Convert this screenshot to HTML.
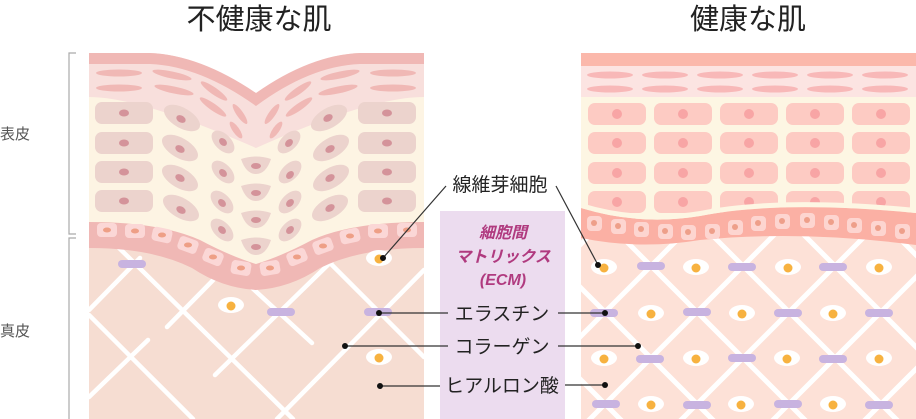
<!DOCTYPE html>
<html><head><meta charset="utf-8"><style>
html,body{margin:0;padding:0;background:#fff;}
svg{display:block;}
text{font-family:"Liberation Sans","Noto Sans CJK JP",sans-serif;}
</style></head><body>
<svg width="916" height="419" viewBox="0 0 916 419" xmlns="http://www.w3.org/2000/svg">
<defs>
<clipPath id="cl"><rect x="89" y="40" width="335" height="379"/></clipPath>
<clipPath id="cr"><rect x="581" y="40" width="335" height="379"/></clipPath>
<g id="eye"><ellipse cx="0" cy="0" rx="13" ry="8" fill="#fff"/><circle cx="0" cy="1" r="4.5" fill="#f7b240"/></g>
</defs>

<text x="259" y="29" font-size="29" text-anchor="middle" fill="#222">不健康な肌</text>
<text x="748" y="29" font-size="29" text-anchor="middle" fill="#222">健康な肌</text>

<path d="M76,53 H69 V234 H76 M76,238 H69 V419" fill="none" stroke="#aaa" stroke-width="1.2"/>
<text x="0" y="139" font-size="15" fill="#555">表皮</text>
<text x="0" y="336" font-size="15" fill="#555">真皮</text>

<!-- ===== LEFT PANEL ===== -->
<g clip-path="url(#cl)">
<rect x="89" y="200" width="335" height="219" fill="#f6ddd2"/>
<g stroke="#fff" stroke-width="4.5" stroke-linecap="round">
<line x1="89" y1="310" x2="140" y2="258"/>
<line x1="113" y1="242" x2="293" y2="419"/>
<line x1="167" y1="327" x2="225" y2="268"/>
<line x1="89" y1="315" x2="193" y2="419"/>
<line x1="89" y1="397" x2="148" y2="340"/>
<line x1="215" y1="375" x2="335" y2="258"/>
<line x1="250" y1="286" x2="312" y2="343"/>
<line x1="277" y1="419" x2="424" y2="270"/>
<line x1="330" y1="263" x2="424" y2="357"/>
</g>
<path d="M89,53 H150 Q200,55 256,95 Q310,55 360,53 H424 V222 Q360,222 256,268 Q150,222 89,222 Z" fill="#fdf4e3"/>
<path d="M89,53 H150 Q200,55 256,95 Q310,55 360,53 H424 V97 Q370,97 256,148 Q140,97 89,97 Z" fill="#f8dfdc"/>
<path d="M89,53 H150 Q200,55 256,93 Q310,55 360,53 H424 V64 H360 Q310,66 256,106 Q200,66 150,64 H89 Z" fill="#f0b8b5"/>
<g fill="#f0b8b5">
<ellipse cx="119" cy="73" rx="23" ry="3.5"/><ellipse cx="119" cy="88" rx="23" ry="3.5"/>
<ellipse cx="172" cy="75" rx="20" ry="3.5" transform="rotate(12 172 75)"/><ellipse cx="174" cy="90" rx="20" ry="3.5" transform="rotate(12 174 90)"/>
<ellipse cx="214" cy="91" rx="16" ry="3.5" transform="rotate(35 214 91)"/><ellipse cx="213" cy="107" rx="16" ry="3.5" transform="rotate(35 213 107)"/>
<ellipse cx="240" cy="114" rx="12" ry="3.3" transform="rotate(55 240 114)"/><ellipse cx="236" cy="130" rx="10" ry="3.3" transform="rotate(55 236 130)"/>
<ellipse cx="272" cy="114" rx="12" ry="3.3" transform="rotate(-55 272 114)"/><ellipse cx="276" cy="130" rx="10" ry="3.3" transform="rotate(-55 276 130)"/>
<ellipse cx="298" cy="91" rx="16" ry="3.5" transform="rotate(-35 298 91)"/><ellipse cx="299" cy="107" rx="16" ry="3.5" transform="rotate(-35 299 107)"/>
<ellipse cx="340" cy="75" rx="20" ry="3.5" transform="rotate(-12 340 75)"/><ellipse cx="338" cy="90" rx="20" ry="3.5" transform="rotate(-12 338 90)"/>
<ellipse cx="393" cy="73" rx="23" ry="3.5"/><ellipse cx="393" cy="88" rx="23" ry="3.5"/>
</g>
<g fill="#ecd3cd">
<rect x="95" y="102" width="58" height="22" rx="7"/><rect x="95" y="132" width="58" height="22" rx="7"/><rect x="95" y="161" width="58" height="22" rx="7"/><rect x="95" y="190" width="58" height="22" rx="7"/>
<rect x="358" y="102" width="58" height="22" rx="7"/><rect x="358" y="132" width="58" height="22" rx="7"/><rect x="358" y="161" width="58" height="22" rx="7"/><rect x="358" y="190" width="58" height="22" rx="7"/>
<ellipse cx="182" cy="118" rx="20" ry="10" transform="rotate(30 182 118)"/><ellipse cx="180" cy="148" rx="20" ry="10" transform="rotate(30 180 148)"/><ellipse cx="180" cy="178" rx="20" ry="10" transform="rotate(30 180 178)"/><ellipse cx="181" cy="208" rx="20" ry="10" transform="rotate(30 181 208)"/>
<ellipse cx="223" cy="142" rx="14" ry="8" transform="rotate(45 223 142)"/><ellipse cx="223" cy="172" rx="14" ry="8" transform="rotate(45 223 172)"/><ellipse cx="222" cy="202" rx="14" ry="8" transform="rotate(45 222 202)"/><ellipse cx="222" cy="230" rx="14" ry="8" transform="rotate(45 222 230)"/>
<ellipse cx="329" cy="118" rx="20" ry="10" transform="rotate(-30 329 118)"/><ellipse cx="331" cy="148" rx="20" ry="10" transform="rotate(-30 331 148)"/><ellipse cx="331" cy="178" rx="20" ry="10" transform="rotate(-30 331 178)"/><ellipse cx="330" cy="208" rx="20" ry="10" transform="rotate(-30 330 208)"/>
<ellipse cx="289" cy="142" rx="14" ry="8" transform="rotate(-45 289 142)"/><ellipse cx="290" cy="172" rx="14" ry="8" transform="rotate(-45 290 172)"/><ellipse cx="290" cy="202" rx="14" ry="8" transform="rotate(-45 290 202)"/><ellipse cx="290" cy="230" rx="14" ry="8" transform="rotate(-45 290 230)"/>
<path d="M241,159 Q256,154 271,159 Q266,174 256,174 Q246,174 241,159Z"/>
<path d="M241,186 Q256,181 271,186 Q266,201 256,201 Q246,201 241,186Z"/>
<path d="M241,213 Q256,208 271,213 Q266,228 256,228 Q246,228 241,213Z"/>
<path d="M241,240 Q256,235 271,240 Q266,255 256,255 Q246,255 241,240Z"/>
</g>
<g fill="#d4939a">
<ellipse cx="124" cy="113" rx="5" ry="3.5"/><ellipse cx="124" cy="143" rx="5" ry="3.5"/><ellipse cx="124" cy="172" rx="5" ry="3.5"/><ellipse cx="124" cy="201" rx="5" ry="3.5"/>
<ellipse cx="387" cy="113" rx="5" ry="3.5"/><ellipse cx="387" cy="143" rx="5" ry="3.5"/><ellipse cx="387" cy="172" rx="5" ry="3.5"/><ellipse cx="387" cy="201" rx="5" ry="3.5"/>
<ellipse cx="181" cy="119" rx="5" ry="3.5" transform="rotate(30 181 119)"/><ellipse cx="180" cy="149" rx="5" ry="3.5" transform="rotate(30 180 149)"/><ellipse cx="180" cy="178" rx="5" ry="3.5" transform="rotate(30 180 178)"/><ellipse cx="181" cy="210" rx="5" ry="3.5" transform="rotate(30 181 210)"/>
<ellipse cx="223" cy="142" rx="4.5" ry="3.3" transform="rotate(45 223 142)"/><ellipse cx="223" cy="173" rx="4.5" ry="3.3" transform="rotate(45 223 173)"/><ellipse cx="222" cy="203" rx="4.5" ry="3.3" transform="rotate(45 222 203)"/><ellipse cx="222" cy="230" rx="4.5" ry="3.3" transform="rotate(45 222 230)"/>
<ellipse cx="328" cy="118" rx="5" ry="3.5" transform="rotate(-30 328 118)"/><ellipse cx="330" cy="149" rx="5" ry="3.5" transform="rotate(-30 330 149)"/><ellipse cx="330" cy="178" rx="5" ry="3.5" transform="rotate(-30 330 178)"/><ellipse cx="330" cy="208" rx="5" ry="3.5" transform="rotate(-30 330 208)"/>
<ellipse cx="289" cy="143" rx="4.5" ry="3.3" transform="rotate(-45 289 143)"/><ellipse cx="290" cy="175" rx="4.5" ry="3.3" transform="rotate(-45 290 175)"/><ellipse cx="290" cy="203" rx="4.5" ry="3.3" transform="rotate(-45 290 203)"/><ellipse cx="290" cy="230" rx="4.5" ry="3.3" transform="rotate(-45 290 230)"/>
<ellipse cx="256" cy="166" rx="5" ry="3"/><ellipse cx="256" cy="193" rx="5" ry="3"/><ellipse cx="256" cy="220" rx="5" ry="3"/><ellipse cx="256" cy="247" rx="5" ry="3"/>
</g>
<path d="M89,222 Q160,222 200,240 Q230,256 256,264 Q282,256 312,240 Q352,222 424,222 V248 Q360,248 320,268 Q290,288 256,290 Q222,288 192,268 Q152,248 89,248 Z" fill="#f0b8b5"/>
<g fill="#fbd7d6">
<rect x="97" y="223" width="20" height="14" rx="4"/>
<rect x="125" y="224" width="20" height="14" rx="4"/>
<rect x="152" y="228" width="20" height="14" rx="4" transform="rotate(12 162 235)"/>
<rect x="178" y="238" width="20" height="14" rx="4" transform="rotate(20 188 245)"/>
<rect x="203" y="250" width="20" height="14" rx="4" transform="rotate(22 213 257)"/>
<rect x="231" y="261" width="20" height="14" rx="4" transform="rotate(10 241 268)"/>
<rect x="260" y="261" width="20" height="14" rx="4" transform="rotate(-10 270 268)"/>
<rect x="287" y="250" width="20" height="14" rx="4" transform="rotate(-22 297 257)"/>
<rect x="313" y="239" width="20" height="14" rx="4" transform="rotate(-20 323 246)"/>
<rect x="340" y="229" width="20" height="14" rx="4" transform="rotate(-12 350 236)"/>
<rect x="368" y="224" width="20" height="14" rx="4"/>
<rect x="397" y="223" width="20" height="14" rx="4"/>
</g>
<g fill="#ee9f86">
<ellipse cx="107" cy="230" rx="4" ry="2.5"/><ellipse cx="135" cy="231" rx="4" ry="2.5"/><ellipse cx="162" cy="235" rx="4" ry="2.5"/><ellipse cx="188" cy="245" rx="4" ry="2.5"/><ellipse cx="213" cy="257" rx="4" ry="2.5"/><ellipse cx="241" cy="268" rx="4" ry="2.5"/><ellipse cx="270" cy="268" rx="4" ry="2.5"/><ellipse cx="297" cy="257" rx="4" ry="2.5"/><ellipse cx="323" cy="246" rx="4" ry="2.5"/><ellipse cx="350" cy="236" rx="4" ry="2.5"/><ellipse cx="378" cy="231" rx="4" ry="2.5"/><ellipse cx="407" cy="230" rx="4" ry="2.5"/>
</g>
<use href="#eye" x="379" y="258"/>
<use href="#eye" x="231" y="305"/>
<use href="#eye" x="379" y="357"/>
<g fill="#c8b3e0">
<rect x="118" y="260" width="28" height="8" rx="4"/>
<rect x="267" y="308" width="28" height="8" rx="4"/>
<rect x="364" y="308" width="28" height="8" rx="4"/>
</g>
</g>

<!-- ===== RIGHT PANEL ===== -->
<g clip-path="url(#cr)">
<rect x="581" y="53" width="335" height="366" fill="#fde1d7"/>
<g stroke="#fff" stroke-width="5">
<line x1="471" y1="86" x2="806" y2="421"/>
<line x1="563" y1="86" x2="898" y2="421"/>
<line x1="655" y1="86" x2="990" y2="421"/>
<line x1="747" y1="86" x2="1082" y2="421"/>
<line x1="839" y1="86" x2="1174" y2="421"/>
<line x1="379" y1="86" x2="714" y2="421"/>
<line x1="287" y1="86" x2="622" y2="421"/>
<line x1="195" y1="86" x2="530" y2="421"/>
<line x1="1009" y1="0" x2="580" y2="429"/>
<line x1="1101" y1="0" x2="672" y2="429"/>
<line x1="1193" y1="0" x2="764" y2="429"/>
<line x1="1285" y1="0" x2="856" y2="429"/>
<line x1="917" y1="0" x2="488" y2="429"/>
<line x1="825" y1="0" x2="396" y2="429"/>
</g>
<rect x="581" y="53" width="335" height="170" fill="#fdf6e3"/>
<rect x="581" y="66" width="335" height="31" fill="#fce4e2"/>
<rect x="581" y="53" width="335" height="13" fill="#fbb8ab"/>
<g fill="#f8b8b8">
<ellipse cx="610" cy="75" rx="23" ry="3.5"/><ellipse cx="665" cy="75" rx="23" ry="3.5"/><ellipse cx="720" cy="75" rx="23" ry="3.5"/><ellipse cx="775" cy="75" rx="23" ry="3.5"/><ellipse cx="830" cy="75" rx="23" ry="3.5"/><ellipse cx="885" cy="75" rx="23" ry="3.5"/>
<ellipse cx="610" cy="89" rx="23" ry="3.5"/><ellipse cx="665" cy="89" rx="23" ry="3.5"/><ellipse cx="720" cy="89" rx="23" ry="3.5"/><ellipse cx="775" cy="89" rx="23" ry="3.5"/><ellipse cx="830" cy="89" rx="23" ry="3.5"/><ellipse cx="885" cy="89" rx="23" ry="3.5"/>
</g>
<g fill="#fdcbc3">
<rect x="588" y="103" width="58" height="22" rx="7"/><rect x="654" y="103" width="58" height="22" rx="7"/><rect x="720" y="103" width="58" height="22" rx="7"/><rect x="786" y="103" width="58" height="22" rx="7"/><rect x="852" y="103" width="58" height="22" rx="7"/>
<rect x="588" y="132" width="58" height="22" rx="7"/><rect x="654" y="132" width="58" height="22" rx="7"/><rect x="720" y="132" width="58" height="22" rx="7"/><rect x="786" y="132" width="58" height="22" rx="7"/><rect x="852" y="132" width="58" height="22" rx="7"/>
<rect x="588" y="162" width="58" height="22" rx="7"/><rect x="654" y="162" width="58" height="22" rx="7"/><rect x="720" y="162" width="58" height="22" rx="7"/><rect x="786" y="162" width="58" height="22" rx="7"/><rect x="852" y="162" width="58" height="22" rx="7"/>
<rect x="588" y="191" width="58" height="22" rx="7"/><rect x="654" y="191" width="58" height="22" rx="7"/><rect x="720" y="191" width="58" height="22" rx="7"/><rect x="786" y="191" width="58" height="22" rx="7"/><rect x="852" y="191" width="58" height="22" rx="7"/>
</g>
<g fill="#f8a5a5">
<circle cx="617" cy="114" r="5"/><circle cx="683" cy="114" r="5"/><circle cx="749" cy="114" r="5"/><circle cx="815" cy="114" r="5"/><circle cx="881" cy="114" r="5"/>
<circle cx="617" cy="143" r="5"/><circle cx="683" cy="143" r="5"/><circle cx="749" cy="143" r="5"/><circle cx="815" cy="143" r="5"/><circle cx="881" cy="143" r="5"/>
<circle cx="617" cy="173" r="5"/><circle cx="683" cy="173" r="5"/><circle cx="749" cy="173" r="5"/><circle cx="815" cy="173" r="5"/><circle cx="881" cy="173" r="5"/>
<circle cx="617" cy="202" r="5"/><circle cx="683" cy="202" r="5"/><circle cx="749" cy="202" r="5"/><circle cx="815" cy="202" r="5"/><circle cx="881" cy="202" r="5"/>
</g>
<path d="M581,208 Q640,226 700,216 Q780,200 916,213 V245 Q800,230 700,240 Q640,250 581,238 Z" fill="#fbb0a4"/>
<path d="M581,203 Q640,221 700,211 Q780,195 916,208 V213 Q780,200 700,216 Q640,226 581,208 Z" fill="#fdf6e3"/>
<g fill="#fdd5d0">
<rect x="587" y="216" width="15" height="15" rx="4"/><rect x="611" y="219" width="15" height="15" rx="4"/><rect x="634" y="222" width="15" height="15" rx="4"/><rect x="658" y="224" width="15" height="15" rx="4"/><rect x="681" y="225" width="15" height="15" rx="4"/><rect x="705" y="224" width="15" height="15" rx="4"/><rect x="728" y="220" width="15" height="15" rx="4"/><rect x="751" y="216" width="15" height="15" rx="4"/><rect x="775" y="214" width="15" height="15" rx="4"/><rect x="800" y="213" width="15" height="15" rx="4"/><rect x="824" y="215" width="15" height="15" rx="4"/><rect x="847" y="218" width="15" height="15" rx="4"/><rect x="871" y="221" width="15" height="15" rx="4"/><rect x="895" y="224" width="15" height="15" rx="4"/>
</g>
<g fill="#ee9f8a">
<circle cx="594" cy="223" r="3"/><circle cx="618" cy="226" r="3"/><circle cx="641" cy="229" r="3"/><circle cx="665" cy="231" r="3"/><circle cx="688" cy="232" r="3"/><circle cx="712" cy="231" r="3"/><circle cx="735" cy="227" r="3"/><circle cx="758" cy="223" r="3"/><circle cx="782" cy="221" r="3"/><circle cx="807" cy="220" r="3"/><circle cx="831" cy="222" r="3"/><circle cx="854" cy="225" r="3"/><circle cx="878" cy="228" r="3"/><circle cx="902" cy="231" r="3"/>
</g>
<use href="#eye" x="604" y="267"/><use href="#eye" x="696" y="267"/><use href="#eye" x="788" y="267"/><use href="#eye" x="879" y="267"/>
<use href="#eye" x="651" y="313"/><use href="#eye" x="742" y="313"/><use href="#eye" x="833" y="313"/>
<use href="#eye" x="604" y="358"/><use href="#eye" x="696" y="358"/><use href="#eye" x="787" y="358"/><use href="#eye" x="879" y="358"/>
<use href="#eye" x="651" y="404"/><use href="#eye" x="741" y="404"/><use href="#eye" x="833" y="404"/>
<g fill="#c8b3e0">
<rect x="637" y="262" width="28" height="8" rx="4"/><rect x="728" y="263" width="28" height="8" rx="4"/><rect x="819" y="263" width="28" height="8" rx="4"/>
<rect x="590" y="309" width="28" height="8" rx="4"/><rect x="683" y="308" width="28" height="8" rx="4"/><rect x="774" y="309" width="28" height="8" rx="4"/><rect x="865" y="309" width="28" height="8" rx="4"/>
<rect x="636" y="355" width="28" height="8" rx="4"/><rect x="728" y="354" width="28" height="8" rx="4"/><rect x="819" y="355" width="28" height="8" rx="4"/>
<rect x="592" y="400" width="28" height="8" rx="4"/><rect x="683" y="401" width="28" height="8" rx="4"/><rect x="774" y="400" width="28" height="8" rx="4"/><rect x="865" y="401" width="28" height="8" rx="4"/>
</g>
</g>

<rect x="440" y="211" width="125" height="208" fill="#ecdcef"/>
<g font-style="italic" font-weight="bold" fill="#b03a7f" text-anchor="middle" font-size="16">
<text x="503" y="238">細胞間</text>
<text x="503" y="262">マトリックス</text>
<text x="503" y="285">(ECM)</text>
</g>

<g stroke="#333" stroke-width="1.2" fill="none">
<line x1="446" y1="186" x2="383" y2="258"/>
<line x1="556" y1="186" x2="598" y2="265"/>
<line x1="379" y1="313" x2="448" y2="313"/>
<line x1="558" y1="313" x2="605" y2="313"/>
<line x1="345" y1="346" x2="448" y2="346"/>
<line x1="558" y1="346" x2="638" y2="346"/>
<line x1="380" y1="386" x2="440" y2="386"/>
<line x1="565" y1="385" x2="605" y2="385"/>
</g>
<g fill="#111">
<circle cx="383" cy="258" r="3"/><circle cx="598" cy="265" r="3"/>
<circle cx="379" cy="313" r="3"/><circle cx="605" cy="313" r="3"/>
<circle cx="345" cy="346" r="3"/><circle cx="638" cy="346" r="3"/>
<circle cx="380" cy="386" r="3"/><circle cx="605" cy="385" r="3"/>
</g>
<g font-size="19" fill="#222" text-anchor="middle">
<text x="500" y="191">線維芽細胞</text>
<text x="502" y="320">エラスチン</text>
<text x="502" y="353">コラーゲン</text>
<text x="502" y="392">ヒアルロン酸</text>
</g>
</svg>
</body></html>
